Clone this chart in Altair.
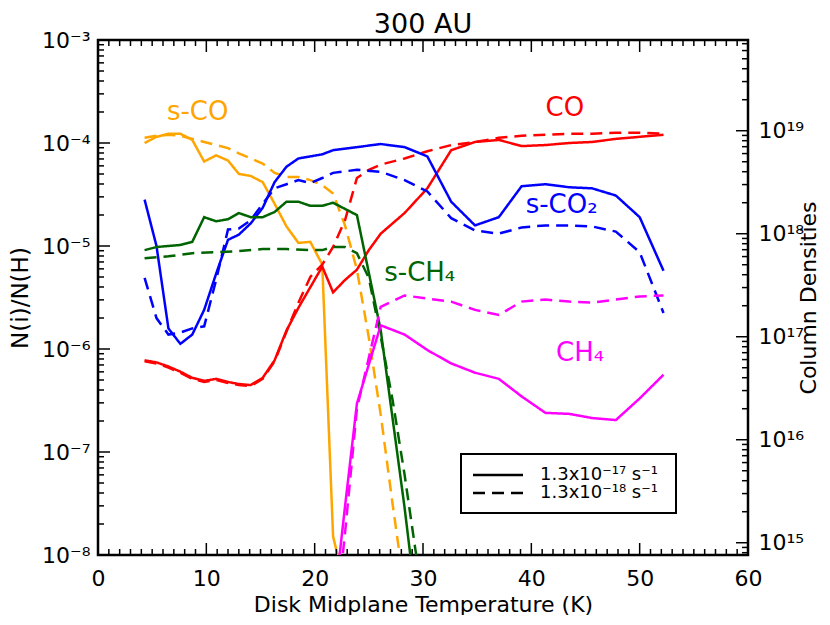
import altair as alt
import pandas as pd

FONT = "DejaVu Sans"
N = None

# common temperature sampling grid (K)
temps = [4.3, 5.4, 6.5, 7.6, 8.7, 9.8, 10.9, 12.0, 13.0, 14.1,
         15.2, 16.3, 17.4, 18.5, 19.6, 20.7, 21.7, 22.8, 23.9, 25.0,
         26.1, 27.2, 28.3, 29.3, 30.4, 31.5, 32.6, 33.7, 34.8, 35.9,
         37.0, 38.0, 39.1, 40.2, 41.3, 42.4, 43.5, 44.5, 45.6, 46.7,
         47.8, 48.9, 50.0, 51.1, 52.2]

# log10 N(i)/N(H) (None = no vertex there)
sco_17 = [-4.00, -3.94, -3.91, -3.91, -3.97, -4.18, -4.12, -4.17, -4.30, -4.32,
          -4.38, -4.59, -4.81, -4.97, -4.96, -5.18, -7.82, -8.30, N, N] + [N] * 25
sco_18 = [-3.95, -3.93, -3.92, -3.93, -3.96, -3.99, -4.02, -4.05, -4.10, -4.15,
          -4.20, -4.29, -4.33, -4.33, -4.36, -4.41, -4.49, -4.80, -5.23, -5.89,
          -6.64, -7.51, -8.34] + [N] * 22
co_17 = [-6.11, -6.13, -6.17, -6.22, -6.28, -6.31, -6.29, -6.32, -6.34, -6.35,
         -6.28, -6.11, -5.82, -5.60, -5.40, -5.20, -5.45, -5.33, -5.23, -5.04,
         -4.88, N, -4.68, N, -4.44, N, -4.07, N, -3.99, N,
         -3.97, N, -4.03, N, -4.02, N, -4.00, N, -3.99, N,
         -3.96, N, -3.94, N, -3.92]
co_18 = [-6.12, -6.14, -6.18, -6.23, -6.29, -6.32, -6.30, -6.33, -6.35, -6.36,
         -6.29, -6.12, -5.83, -5.55, -5.30, -5.18, -5.01, -4.75, -4.34, -4.26,
         -4.21, N, -4.15, N, -4.08, N, -4.02, N, -3.99, N,
         -3.95, N, -3.93, N, -3.92, N, -3.91, N, -3.91, N,
         -3.90, N, -3.90, N, -3.91]
sco2_17 = [-4.55, -5.00, -5.80, -5.95, -5.86, -5.62, -5.27, -4.94, -4.89, -4.78,
           -4.63, -4.38, -4.23, -4.15, -4.13, -4.11, -4.07, N, -4.04, N,
           -4.01, N, -4.04, N, -4.13, N, -4.57, N, -4.80, N,
           -4.72, N, -4.42, N, -4.40, N, -4.43, N, -4.44, N,
           -4.51, N, -4.72, N, -5.24]
sco2_18 = [-5.31, -5.70, -5.86, -5.84, -5.80, -5.78, -5.33, -4.84, -4.83, -4.75,
           -4.59, -4.44, -4.40, -4.36, -4.39, -4.34, -4.29, N, -4.26, N,
           -4.28, N, -4.36, N, -4.47, N, -4.73, N, -4.85, N,
           -4.88, N, -4.82, N, -4.80, N, -4.80, N, -4.81, N,
           -4.86, N, -5.06, N, -5.65]
sch4_17 = [-5.04, -5.01, -5.00, -4.99, -4.96, -4.72, -4.76, -4.74, -4.68, -4.72,
           -4.72, -4.67, -4.57, -4.57, -4.61, -4.61, -4.58, N, -4.70, N,
           -5.82, N, -7.54, -8.41] + [N] * 21
sch4_18 = [-5.12, N, -5.10, N, -5.07, N, -5.06, N, -5.05, N,
           -5.03, N, -5.03, N, -5.04, -5.04, -5.01, -5.01, -5.07, -5.31,
           -5.88, -6.50, -7.22, -7.95, -8.65] + [N] * 20
ch4_17 = [N] * 16 + [-8.57, -7.53, -6.53, N,
                     -5.77, N, -5.86, N, -6.01, N, -6.14, N, -6.23, N,
                     -6.29, N, -6.46, N, -6.62, N, -6.63, N, -6.67, N,
                     -6.69, N, -6.48, N, -6.25]
ch4_18 = [N] * 16 + [-8.90, -7.79, -6.58, N,
                     -5.59, N, -5.48, N, -5.51, N, -5.54, N, -5.62, N,
                     -5.67, N, -5.54, N, -5.52, N, -5.54, N, -5.55, N,
                     -5.52, N, -5.49, N, -5.48]

rate17 = "1.3x10⁻¹⁷ s⁻¹"
rate18 = "1.3x10⁻¹⁸ s⁻¹"
species = ["s-CO", "CO", "s-CO2", "s-CH4", "CH4"]
colors = ["#FFA500", "#FF0000", "#0000FF", "#006400", "#FF00FF"]

series = [
    ("s-CO", rate18, sco_18), ("s-CO", rate17, sco_17),
    ("CO", rate18, co_18), ("CO", rate17, co_17),
    ("s-CO2", rate18, sco2_18), ("s-CO2", rate17, sco2_17),
    ("s-CH4", rate18, sch4_18), ("s-CH4", rate17, sch4_17),
    ("CH4", rate18, ch4_18), ("CH4", rate17, ch4_17),
]
rows = []
for sp, rate, vals in series:
    for t, lv in zip(temps, vals):
        if lv is not None:
            rows.append({"T": t, "v": 10 ** lv, "species": sp, "rate": rate})
lines_df = pd.DataFrame(rows)

# in-plot labels
annot_species = ["s-CO", "CO", "s-CO2", "s-CH4", "CH4"]
annot_text = ["s-CO", "CO", "s-CO₂", "s-CH₄", "CH₄"]
annot_T = [9.2, 43.1, 42.8, 29.7, 44.5]
annot_v = [2.0e-4, 2.19e-4, 2.5e-5, 5.5e-6, 9.1e-7]
annot_df = pd.DataFrame({"T": annot_T, "v": annot_v,
                         "species": annot_species, "label": annot_text})

title_text = "300 AU"

# axis ticks
left_major = [1e-8, 1e-7, 1e-6, 1e-5, 1e-4, 1e-3]
left_minor = [m * 10.0 ** e for e in range(-8, -3) for m in range(2, 10)]
right_dom = [7.6e14, 7.6e19]
right_major = [1e15, 1e16, 1e17, 1e18, 1e19]
right_minor = [m * 10.0 ** e for e in range(14, 20) for m in range(2, 10)
               if right_dom[0] <= m * 10.0 ** e <= right_dom[1]]
x_major = list(range(0, 61, 10))
x_minor = [t for t in range(0, 61) if t % 10]

SUP = str.maketrans("-0123456789", "⁻⁰¹²³⁴⁵⁶⁷⁸⁹")


def label_expr(exps):
    s = "''"
    for e in reversed(exps):
        s = f"(abs(log(datum.value)/LN10-({e}))<0.01) ? '10{str(e).translate(SUP)}' : {s}"
    return s


W, H = 650, 515
MAJ, MIN = 12, 6
TW = 1.5

x_axis = alt.Axis(values=x_major, ticks=False, domain=False, grid=False,
                  labelFont=FONT, labelFontSize=22, labelColor="black",
                  labelPadding=13, labelFlush=False, labelOverlap=False,
                  title="Disk Midplane Temperature (K)", titleFont=FONT,
                  titleFontSize=22, titleFontWeight="normal", titleColor="black",
                  titleBaseline="alphabetic", titleY=56)
x_enc = alt.X("T:Q", scale=alt.Scale(domain=[0, 60], nice=False), axis=x_axis)

left_axis = alt.Axis(orient="left", values=left_major,
                     labelExpr=label_expr(list(range(-8, -2))),
                     ticks=False, domain=False, grid=False,
                     labelFont=FONT, labelFontSize=22, labelColor="black",
                     labelPadding=8, labelFlush=False, labelOverlap=False,
                     title="N(i)/N(H)", titleFont=FONT, titleFontSize=23,
                     titleFontWeight="normal", titleColor="black",
                     titleAngle=270, titleX=-71, titleY=H / 2,
                     titleAlign="center", titleBaseline="alphabetic")
y_left = alt.Y("v:Q", scale=alt.Scale(type="log", domain=[1e-8, 1e-3], nice=False),
               axis=left_axis)

right_axis = alt.Axis(orient="right", values=right_major,
                      labelExpr=label_expr(list(range(15, 20))),
                      ticks=False, domain=False, grid=False,
                      labelFont=FONT, labelFontSize=22, labelColor="black",
                      labelPadding=10, labelFlush=False, labelOverlap=False,
                      title="Column Densities", titleFont=FONT, titleFontSize=22,
                      titleFontWeight="normal", titleColor="black",
                      titleAngle=270, titleX=67, titleY=H / 2,
                      titleAlign="center", titleBaseline="alphabetic")
y_right = alt.Y("cd:Q", scale=alt.Scale(type="log", domain=right_dom, nice=False),
                axis=right_axis)

color_enc = alt.Color("species:N", scale=alt.Scale(domain=species, range=colors),
                      legend=None)
dash_enc = alt.StrokeDash("rate:N", scale=alt.Scale(domain=[rate17, rate18],
                                                    range=[[1, 0], [12, 7]]),
                          legend=None)

lines = alt.Chart(lines_df).mark_line(strokeWidth=2.5, clip=True).encode(
    x=x_enc, y=y_left, color=color_enc, strokeDash=dash_enc,
    detail="rate:N")

annot = alt.Chart(annot_df).mark_text(font=FONT, fontSize=26, align="center",
                                      baseline="middle").encode(
    x=x_enc, y=y_left, text="label:N", color=color_enc)


def hticks(df, yenc, x0, x1):
    return alt.Chart(df).mark_rule(color="black", strokeWidth=TW).encode(
        y=yenc, x=alt.value(x0), x2=alt.value(x1))


def vticks(vals, y0, y1):
    return alt.Chart(pd.DataFrame({"T": vals})).mark_rule(
        color="black", strokeWidth=TW).encode(x=x_enc, y=alt.value(y0), y2=alt.value(y1))


lmaj = hticks(pd.DataFrame({"v": left_major}), y_left, 0, MAJ)
lmin = hticks(pd.DataFrame({"v": left_minor}), y_left, 0, MIN)
bmaj = vticks(x_major, H, H - MAJ)
bmin = vticks(x_minor, H, H - MIN)
tmaj = vticks(x_major, 0, MAJ)
tmin = vticks(x_minor, 0, MIN)
rmaj = hticks(pd.DataFrame({"cd": right_major}), y_right, W - MAJ, W)
rmin = hticks(pd.DataFrame({"cd": right_minor}), y_right, W - MIN, W)

one = pd.DataFrame({"k": [0]})
title_mark = alt.Chart(one).mark_text(font=FONT, fontSize=27, align="center",
                                      baseline="alphabetic", color="black").encode(
    x=alt.value(W / 2), y=alt.value(-7), text=alt.value(title_text))
leg_box = alt.Chart(one).mark_rect(fill="white", stroke="black", strokeWidth=2).encode(
    x=alt.value(363), x2=alt.value(578), y=alt.value(414), y2=alt.value(473))
leg_l1 = alt.Chart(one).mark_rule(color="black", strokeWidth=2.5).encode(
    x=alt.value(375), x2=alt.value(425), y=alt.value(435))
leg_l2 = alt.Chart(one).mark_rule(color="black", strokeWidth=2.5,
                                  strokeDash=[12, 7]).encode(
    x=alt.value(375), x2=alt.value(425), y=alt.value(453))
leg_t1 = alt.Chart(one).mark_text(font=FONT, fontSize=18, align="left",
                                  baseline="middle", color="black").encode(
    x=alt.value(442), y=alt.value(435), text=alt.value(rate17))
leg_t2 = alt.Chart(one).mark_text(font=FONT, fontSize=18, align="left",
                                  baseline="middle", color="black").encode(
    x=alt.value(442), y=alt.value(453), text=alt.value(rate18))

left_layer = alt.layer(lines, annot, lmaj, lmin, bmaj, bmin, tmaj, tmin,
                       leg_box, leg_l1, leg_l2, leg_t1, leg_t2, title_mark)
right_layer = alt.layer(rmaj, rmin)

chart = alt.layer(left_layer, right_layer).resolve_scale(y="independent").properties(
    width=W, height=H,
    padding={"left": 90, "top": 32, "right": 74, "bottom": 60},
    autosize="none",
).configure_view(stroke="black", strokeWidth=2.5)

chart.save("out.html", embed_options={"renderer": "svg", "actions": False})
